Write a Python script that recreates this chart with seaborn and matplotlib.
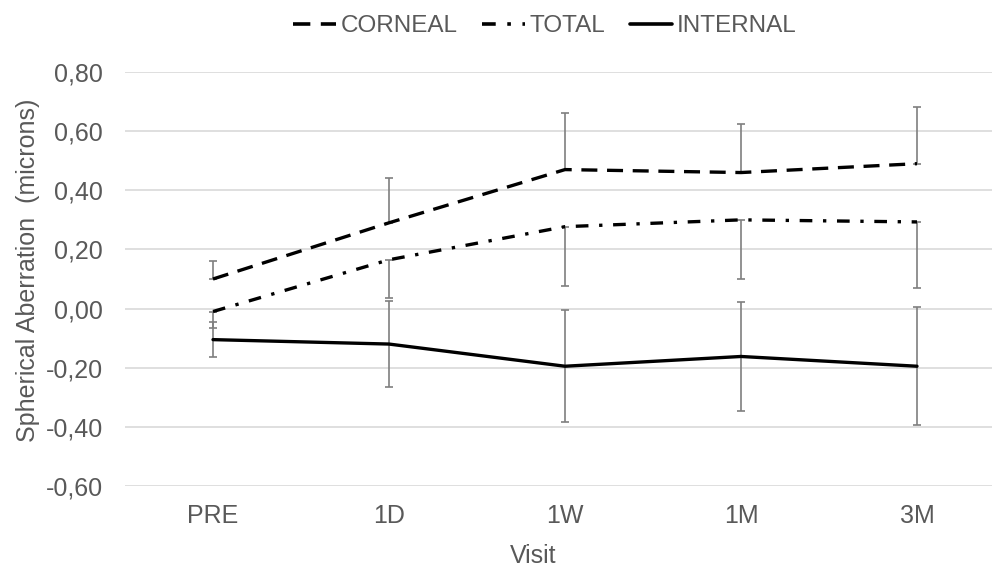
import numpy as np
import pandas as pd
import matplotlib
matplotlib.use("Agg")
import matplotlib.pyplot as plt
import seaborn as sns
from matplotlib.lines import Line2D
from matplotlib.ticker import FuncFormatter

visits = ["PRE", "1D", "1W", "1M", "3M"]
corneal = [0.10, 0.29, 0.47, 0.46, 0.49]
corneal_sd = [0.06, 0.15, 0.19, 0.165, 0.19]
total = [-0.01, 0.165, 0.277, 0.30, 0.293]
total_sd = [0.055, 0.13, 0.20, 0.20, 0.225]
internal = [-0.105, -0.12, -0.195, -0.162, -0.195]
internal_sd = [0.06, 0.145, 0.19, 0.185, 0.20]

series_names = ["CORNEAL", "TOTAL", "INTERNAL"]

df = pd.DataFrame({
    "Visit": visits * 3,
    "value": corneal + total + internal,
    "series": np.repeat(series_names, len(visits)),
})

sns.set_theme(style="white")
plt.rcParams["font.family"] = ["Liberation Sans", "DejaVu Sans"]

text_color = "#595959"
grid_color = "#d9d9d9"
err_color = "#7f7f7f"

fig = plt.figure(figsize=(9.92, 5.70), dpi=100)
ax = fig.add_axes([125 / 992, 84 / 570, 880 / 992, 414 / 570])

x = np.arange(len(visits))
df["x"] = df["Visit"].map({v: i for i, v in enumerate(visits)})

dash_styles = {
    "CORNEAL": (4.8, 2.9),
    "TOTAL": (3.8, 3.2, 1.0, 3.2),
    "INTERNAL": "",
}

# error bars: corneal above, total below, internal both ways
eb_kw = dict(fmt="none", ecolor=err_color, elinewidth=1.2, capsize=2.7,
             capthick=1.2, zorder=2)
ax.errorbar(x, corneal, yerr=[np.zeros(5), corneal_sd], **eb_kw)
ax.errorbar(x, total, yerr=[total_sd, np.zeros(5)], **eb_kw)
ax.errorbar(x, internal, yerr=internal_sd, **eb_kw)

sns.lineplot(data=df, x="x", y="value", style="series", style_order=series_names,
             dashes=dash_styles, color="black", linewidth=2.4, ax=ax,
             legend=False, zorder=3)

ax.set_xlim(-0.5, len(visits) - 0.5)
ax.set_ylim(-0.6, 0.8)
ax.set_yticks(np.arange(-0.6, 0.81, 0.2))
ax.yaxis.set_major_formatter(FuncFormatter(lambda v, p: f"{v:.2f}".replace(".", ",").replace("-0,00", "0,00")))
ax.set_xticks(x)
ax.set_xticklabels(visits)
ax.grid(axis="y", color=grid_color, linewidth=1.2)
ax.set_axisbelow(True)
for s in ax.spines.values():
    s.set_visible(False)
ax.tick_params(axis="both", length=0, labelsize=18, colors=text_color)
ax.tick_params(axis="y", pad=16)
ax.tick_params(axis="x", pad=13)

ax.set_xlabel("Visit", fontsize=18, color=text_color)
ax.set_ylabel("Spherical Aberration  (microns)", fontsize=18, color=text_color)
ax.xaxis.set_label_coords((533 - 125) / 880, -(544 - 486) / 414)
ax.yaxis.set_label_coords((40 - 125) / 880, (486 - 270) / 414)

handles = [
    Line2D([], [], color="black", lw=2.6, dashes=dash_styles["CORNEAL"]),
    Line2D([], [], color="black", lw=2.6, dashes=dash_styles["TOTAL"]),
    Line2D([], [], color="black", lw=2.6),
]
fig.legend(handles, series_names, loc="upper center", bbox_to_anchor=(545 / 992, 1.012),
           ncol=3, frameon=False, fontsize=17.5, labelcolor=text_color,
           handlelength=1.75, handletextpad=0.2, columnspacing=1.0)

fig.savefig("out.png", dpi=100)
